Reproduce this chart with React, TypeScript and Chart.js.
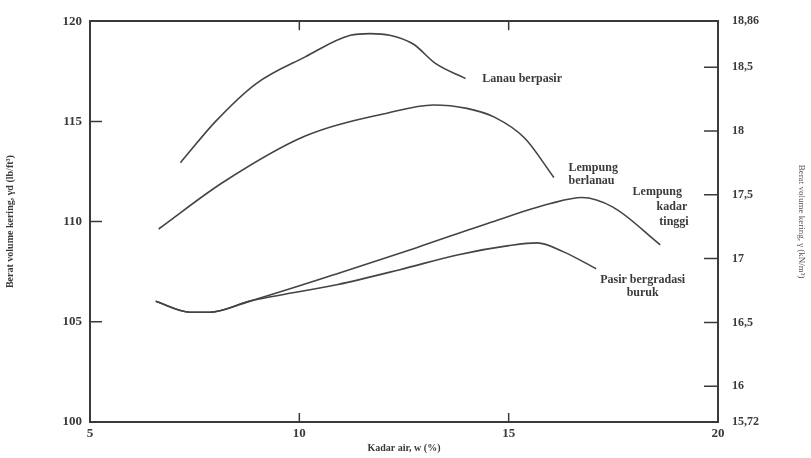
import React, { useEffect, useRef } from "react";
import { Chart, registerables } from "chart.js";

Chart.register(...registerables);

// Kadar air (%) vs berat volume kering (lb/ft³)
const lanauX = [7.16, 8.0, 8.97, 10.14, 11.22, 11.69, 12.16, 12.72, 13.26, 13.97];
const lanauY = [112.94, 115.0, 116.89, 118.22, 119.3, 119.38, 119.3, 118.86, 117.88, 117.14];

const berlanauX = [6.64, 8.17, 10.14, 12.09, 13.2, 14.0, 14.67, 15.38, 16.08];
const berlanauY = [109.63, 111.95, 114.27, 115.41, 115.82, 115.65, 115.2, 114.17, 112.2];

const commonX = [6.57, 7.39, 7.86, 8.8];
const commonY = [106.02, 105.48, 105.48, 106.02];

const kadarX = [10.92, 12.8, 14.6, 16.0, 16.75, 17.49, 18.62];
const kadarY = [107.41, 108.7, 109.98, 110.9, 111.2, 110.72, 108.84];

const pasirX = [10.92, 12.4, 13.8, 15.0, 15.68, 16.31, 17.09];
const pasirY = [106.86, 107.6, 108.35, 108.8, 108.94, 108.49, 107.65];

const xTicks = [5, 10, 15, 20];
const leftTicks = [100, 105, 110, 115, 120];
const rightTickValues = [15.72, 16, 16.5, 17, 17.5, 18, 18.5, 18.86];
const rightTickLabels = ["15,72", "16", "16,5", "17", "17,5", "18", "18,5", "18,86"];

const curveNames = ["Lanau berpasir", "Lempung berlanau", "Lempung kadar tinggi", "Pasir bergradasi buruk"];

function pts(xs: number[], ys: number[]) {
  return xs.map((x, i) => ({ x, y: ys[i] }));
}

const INK = "#3a3a3a";
const FONT = "'Liberation Serif', 'DejaVu Serif', serif";

const labelPlugin = {
  id: "curveLabels",
  afterDraw(chart: any) {
    const { ctx, scales } = chart;
    const xs = scales.x;
    const ys = scales.y;
    const items: [string, number, number, CanvasTextAlign][] = [
      ["Lanau berpasir", 14.37, 117.14, "left"],
      ["Lempung", 16.43, 112.69, "left"],
      ["berlanau", 16.43, 112.05, "left"],
      ["Lempung", 18.55, 111.46, "center"],
      ["kadar", 18.9, 110.72, "center"],
      ["tinggi", 18.95, 109.98, "center"],
      ["Pasir bergradasi", 18.2, 107.1, "center"],
      ["buruk", 18.2, 106.42, "center"],
    ];
    ctx.save();
    ctx.fillStyle = INK;
    ctx.font = `bold 12px ${FONT}`;
    ctx.textBaseline = "middle";
    for (const [t, x, y, a] of items) {
      ctx.textAlign = a;
      ctx.fillText(t, xs.getPixelForValue(x), ys.getPixelForValue(y));
    }
    // inward tick marks
    const area = chart.chartArea;
    ctx.strokeStyle = INK;
    ctx.lineWidth = 1.5;
    ctx.beginPath();
    for (const v of [10, 15]) {
      const px = xs.getPixelForValue(v);
      ctx.moveTo(px, area.bottom);
      ctx.lineTo(px, area.bottom - 9);
      ctx.moveTo(px, area.top);
      ctx.lineTo(px, area.top + 9);
    }
    for (const v of [105, 110, 115]) {
      const py = ys.getPixelForValue(v);
      ctx.moveTo(area.left, py);
      ctx.lineTo(area.left + 12, py);
    }
    const y2 = scales.y2;
    for (const v of [16, 16.5, 17, 17.5, 18, 18.5]) {
      const py = y2.getPixelForValue(v);
      ctx.moveTo(area.right, py);
      ctx.lineTo(area.right - 14, py);
    }
    ctx.stroke();
    ctx.restore();
  },
};

export default function App() {
  const ref = useRef<HTMLCanvasElement>(null);
  useEffect(() => {
    document.body.style.margin = "0";
    const ds = (label: string, data: any[]) => ({
      label,
      data,
      borderColor: "#444",
      borderWidth: 1.6,
      pointRadius: 0,
      fill: false,
      cubicInterpolationMode: "monotone" as const,
      tension: 0.4,
    });
    const chart = new Chart(ref.current!, {
      type: "line",
      data: {
        datasets: [
          ds(curveNames[0], pts(lanauX, lanauY)),
          ds(curveNames[1], pts(berlanauX, berlanauY)),
          ds(curveNames[2], pts(commonX.concat(kadarX), commonY.concat(kadarY))),
          ds(curveNames[3], pts(commonX.concat(pasirX), commonY.concat(pasirY))),
        ],
      },
      options: {
        animation: false,
        responsive: false,
        parsing: true,
        layout: { padding: { top: 15, left: 0, right: 0, bottom: 0 } },
        plugins: { legend: { display: false }, tooltip: { enabled: false } },
        scales: {
          x: {
            type: "linear",
            min: 5,
            max: 20,
            afterBuildTicks: (s: any) => {
              s.ticks = xTicks.map((v) => ({ value: v }));
            },
            afterFit: (s: any) => {
              s.height = 36;
            },
            grid: { display: false, drawTicks: false },
            border: { display: true, color: INK, width: 2 },
            ticks: { color: INK, font: { family: FONT, size: 13, weight: "bold" }, padding: 4, maxRotation: 0 },
            title: { display: true, text: "Kadar air, w (%)", color: INK, font: { family: FONT, size: 10, weight: "bold" }, padding: { top: 0 } },
          },
          x2: {
            type: "linear",
            position: "top",
            min: 5,
            max: 20,
            display: true,
            afterFit: (s: any) => {
              s.height = 0;
            },
            grid: { display: false, drawTicks: false },
            border: { display: true, color: INK, width: 2 },
            ticks: { display: false },
          },
          y: {
            type: "linear",
            position: "left",
            min: 100,
            max: 120,
            afterBuildTicks: (s: any) => {
              s.ticks = leftTicks.map((v) => ({ value: v }));
            },
            afterFit: (s: any) => {
              s.width = 90;
            },
            grid: { display: false, drawTicks: false },
            border: { display: true, color: INK, width: 2 },
            ticks: { color: INK, font: { family: FONT, size: 13, weight: "bold" }, padding: 8 },
            title: {
              display: true,
              text: "Berat volume kering, γd (lb/ft³)",
              color: INK,
              font: { family: FONT, size: 10, weight: "bold" },
              padding: { bottom: 6 },
            },
          },
          y2: {
            type: "linear",
            position: "right",
            min: 15.72,
            max: 18.86,
            afterBuildTicks: (s: any) => {
              s.ticks = rightTickValues.map((v) => ({ value: v }));
            },
            afterFit: (s: any) => {
              s.width = 93;
            },
            grid: { display: false, drawTicks: false },
            border: { display: true, color: INK, width: 2 },
            ticks: {
              color: INK,
              font: { family: FONT, size: 12, weight: "bold" },
              padding: 14,
              callback: (v: any) => {
                const i = rightTickValues.findIndex((t) => Math.abs(t - Number(v)) < 1e-6);
                return i >= 0 ? rightTickLabels[i] : "";
              },
            },
            title: {
              display: true,
              text: "Berat volume kering, γ (kN/m³)",
              color: "#555",
              font: { family: FONT, size: 9 },
              padding: { top: 4 },
            },
          },
        },
      },
      plugins: [labelPlugin],
    });
    return () => chart.destroy();
  }, []);
  return (
    <div style={{ position: "absolute", left: 0, top: 0, width: 811, height: 458, background: "#fff" }}>
      <canvas ref={ref} width={811} height={458} style={{ width: 811, height: 458 }} />
    </div>
  );
}
